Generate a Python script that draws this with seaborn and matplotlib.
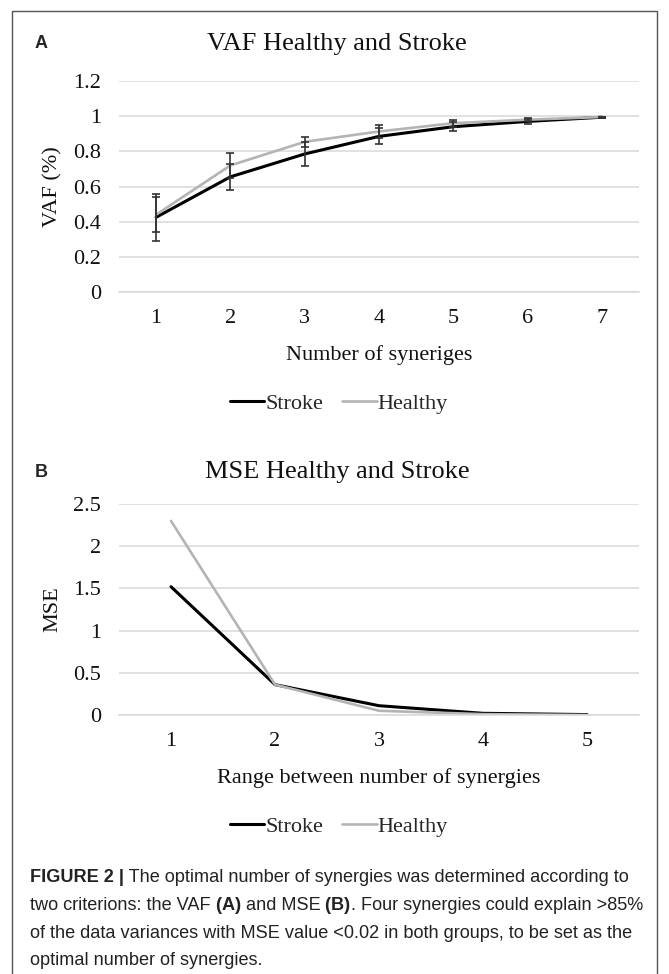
import numpy as np
import pandas as pd
import matplotlib
matplotlib.use("Agg")
import matplotlib.pyplot as plt
from matplotlib.lines import Line2D
from matplotlib.patches import Rectangle
import seaborn as sns

# --- values ---
vaf_synergies = [1, 2, 3, 4, 5, 6, 7]
vaf_stroke = [0.425, 0.655, 0.785, 0.885, 0.94, 0.97, 0.994]
vaf_stroke_sd = [0.135, 0.075, 0.07, 0.045, 0.027, 0.013, 0.004]
vaf_healthy = [0.44, 0.72, 0.854, 0.913, 0.96, 0.98, 0.995]
vaf_healthy_sd = [0.10, 0.07, 0.03, 0.035, 0.02, 0.01, 0.003]
vaf_ticks = [0, 0.2, 0.4, 0.6, 0.8, 1, 1.2]

mse_range = [1, 2, 3, 4, 5]
mse_stroke = [1.52, 0.36, 0.11, 0.02, 0.005]
mse_healthy = [2.30, 0.36, 0.05, 0.01, 0.0]
mse_ticks = [0, 0.5, 1, 1.5, 2, 2.5]

groups = ["Stroke", "Healthy"]
group_colors = {"Stroke": "#000000", "Healthy": "#b4b4b4"}
group_widths = {"Stroke": 2.2, "Healthy": 1.9}

caption_lines = [
    [("FIGURE 2 |", True), (" The optimal number of synergies was determined according to", False)],
    [("two criterions: the VAF", False), (" (A)", True), (" and MSE", False), (" (B)", True),
     (". Four synergies could explain >85%", False)],
    [("of the data variances with MSE value <0.02 in both groups, to be set as the", False)],
    [("optimal number of synergies.", False)],
]

W, H = 669, 974
SERIF = "Liberation Serif"
GRID = "#d9d9d9"
FS = 16      # ticks, axis labels, legend
TFS = 19     # chart titles

sns.set_theme(style="white")
plt.rcParams["font.family"] = [SERIF, "DejaVu Serif"]

fig = plt.figure(figsize=(W / 100, H / 100), dpi=100)


def px_axes(left, top, right, bottom):
    return fig.add_axes([left / W, 1 - bottom / H, (right - left) / W, (bottom - top) / H])


def style_axes(ax, ncat, ticks):
    ax.set_xlim(0.5, ncat + 0.5)
    ax.set_ylim(ticks[0], ticks[-1])
    ax.set_xticks(range(1, ncat + 1))
    ax.set_xticklabels([str(i) for i in range(1, ncat + 1)])
    ax.set_xticks(np.arange(0.5, ncat + 1, 1), minor=True)
    ax.set_yticks(ticks)
    ax.set_yticklabels([f"{t:g}" for t in ticks])
    ax.yaxis.grid(True, color=GRID, lw=1.1)
    ax.xaxis.grid(False)
    ax.set_axisbelow(True)
    for side in ["left", "right", "top"]:
        ax.spines[side].set_visible(False)
    ax.spines["bottom"].set_color(GRID)
    ax.spines["bottom"].set_linewidth(1.1)
    ax.tick_params(axis="x", which="major", length=0, pad=12, labelsize=FS, labelcolor="#111")
    ax.tick_params(axis="x", which="minor", length=5, width=1.1, color=GRID, direction="out")
    ax.tick_params(axis="y", length=0, pad=13, labelsize=FS, labelcolor="#111")
    for ln, g in zip(ax.lines, groups):
        ln.set_linewidth(group_widths[g])


def set_labels(ax, xlabel, ylabel, top_px, bottom_px):
    ax.set_xlabel(xlabel, fontsize=FS, color="#111")
    ax.set_ylabel(ylabel, fontsize=FS, color="#111")
    ax.xaxis.set_label_coords(0.5, -63 / (bottom_px - top_px))
    ax.xaxis.label.set_va("center")
    ax.yaxis.set_label_coords((52 - 118) / 521, 0.5)
    ax.yaxis.label.set_va("center")


def legend_below(y_px):
    handles = [Line2D([], [], color=group_colors[g], lw=group_widths[g]) for g in groups]
    fig.legend(handles, groups, loc="center", bbox_to_anchor=(339 / W, 1 - y_px / H),
               ncol=2, frameon=False, handlelength=1.55, handletextpad=0.05,
               columnspacing=0.85, prop={"family": SERIF, "size": FS})


def panel_title(letter, title, y_px):
    fig.text(35 / W, 1 - y_px / H, letter, fontsize=13, fontweight="bold",
             family="Liberation Sans", va="center", ha="left")
    fig.text(337 / W, 1 - y_px / H, title, fontsize=TFS, va="center", ha="center", color="#111")


# ---------- panel A: VAF ----------
A_TOP, A_BOT = 81, 292
ax1 = px_axes(119, A_TOP, 639, A_BOT)
vaf_df = pd.DataFrame({
    "Synergies": vaf_synergies * 2,
    "VAF": vaf_stroke + vaf_healthy,
    "Group": ["Stroke"] * len(vaf_synergies) + ["Healthy"] * len(vaf_synergies),
})
sns.lineplot(data=vaf_df, x="Synergies", y="VAF", hue="Group", hue_order=groups,
             palette=group_colors, legend=False, ax=ax1)
style_axes(ax1, len(vaf_synergies), vaf_ticks)
for vals, sd in [(vaf_stroke, vaf_stroke_sd), (vaf_healthy, vaf_healthy_sd)]:
    ax1.errorbar(vaf_synergies, vals, yerr=sd, fmt="none", ecolor="#333333",
                 elinewidth=1.2, capsize=3, capthick=1.2, zorder=4)
set_labels(ax1, "Number of syneriges", "VAF (%)", A_TOP, A_BOT)
panel_title("A", "VAF Healthy and Stroke", 44)
legend_below(404)

# ---------- panel B: MSE ----------
B_TOP, B_BOT = 504, 715
ax2 = px_axes(119, B_TOP, 639, B_BOT)
mse_df = pd.DataFrame({
    "Range": mse_range * 2,
    "MSE": mse_stroke + mse_healthy,
    "Group": ["Stroke"] * len(mse_range) + ["Healthy"] * len(mse_range),
})
sns.lineplot(data=mse_df, x="Range", y="MSE", hue="Group", hue_order=groups,
             palette=group_colors, legend=False, ax=ax2)
style_axes(ax2, len(mse_range), mse_ticks)
set_labels(ax2, "Range between number of synergies", "MSE", B_TOP, B_BOT)
panel_title("B", "MSE Healthy and Stroke", 472)
legend_below(827)

# ---------- caption ----------
renderer = fig.canvas.get_renderer()
cap_family = ["Liberation Sans Narrow", "Liberation Sans"]


def draw_line(pieces, x_px, y_px, size):
    x = x_px
    made = []
    for txt, bold in pieces:
        t = fig.text(x / W, 1 - y_px / H, txt, fontsize=size, family=cap_family,
                     fontweight="bold" if bold else "normal", va="center", ha="left",
                     color="#222")
        x += t.get_window_extent(renderer).width
        made.append(t)
    return x - x_px, made


# fit the caption so the first line spans about 600 px
width, made = draw_line(caption_lines[0], 30, 878, 12.0)
for t in made:
    t.remove()
cap_size = 12.0 * 600 / width

for i, line in enumerate(caption_lines):
    draw_line(line, 30, 878 + i * 27.5, cap_size)

# frame round the figure
fig.add_artist(Rectangle((12 / W, -0.01), 645 / W, 1 - 11 / H + 0.01, transform=fig.transFigure,
                         fill=False, ec="#555555", lw=1.0))

fig.savefig("out.png", dpi=100)
